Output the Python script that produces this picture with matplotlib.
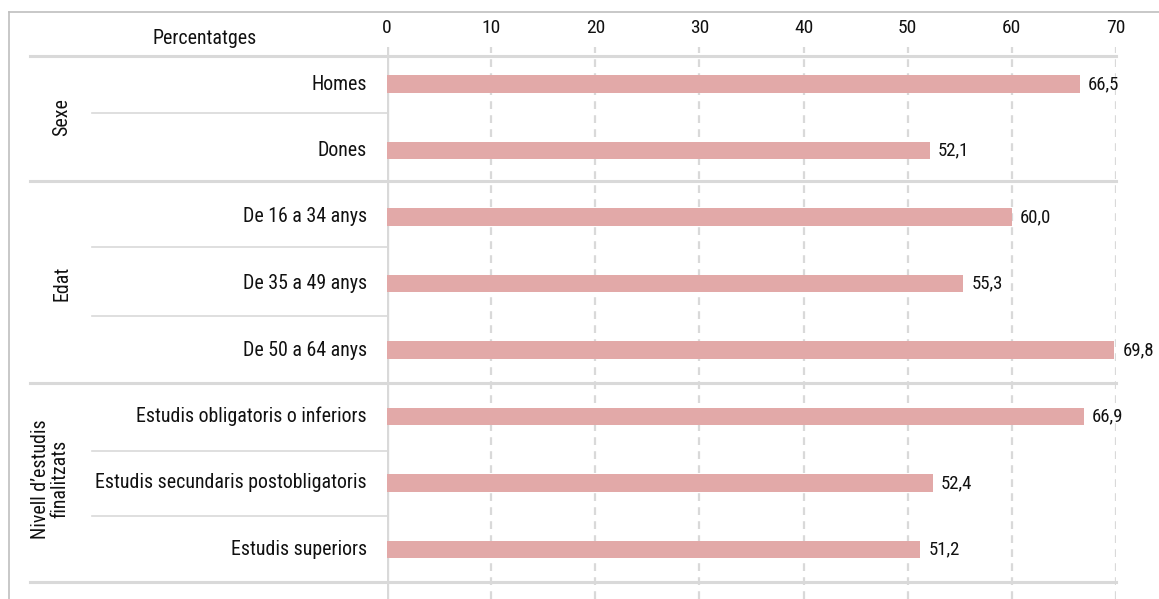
import matplotlib
matplotlib.use('Agg')
import matplotlib.pyplot as plt
from matplotlib.lines import Line2D

# =============================================================================
# Data
# =============================================================================
categories = ['Homes', 'Dones',
              'De 16 a 34 anys', 'De 35 a 49 anys', 'De 50 a 64 anys',
              'Estudis obligatoris o inferiors',
              'Estudis secundaris postobligatoris',
              'Estudis superiors']
values = [66.5, 52.1, 60.0, 55.3, 69.8, 66.9, 52.4, 51.2]
groups = ['Sexe', 'Edat', "Nivell d\u2019estudis\nfinalitzats"]
group_sizes = [2, 3, 3]
xticks = [0, 10, 20, 30, 40, 50, 60, 70]
axis_title = 'Percentatges'

# =============================================================================
# Plotting
# =============================================================================
plt.rcParams['font.family'] = ['Roboto Condensed', 'Liberation Sans', 'DejaVu Sans']

W, H = 1159, 599
fig = plt.figure(figsize=(W / 100, H / 100), dpi=100, facecolor='w')

# pixel helpers
x0_px, x70_px = 387, 1116
top_px, row0_px, row_step = 47, 84, 66.5
ax = fig.add_axes([x0_px / W, 0, (x70_px - x0_px) / W, (H - top_px) / H])
ax_w = x70_px - x0_px

def row(px):
    return (px - row0_px) / row_step

bar_col = '#e2a9a8'
grid_col = '#d9d9d9'
txt_col = '#111111'

ypos = list(range(len(categories)))
ax.barh(ypos, values, height=0.26, color=bar_col, zorder=3)
for y, v in zip(ypos, values):
    ax.annotate(f'{v:.1f}'.replace('.', ','), xy=(v, y), xytext=(6, 0),
                textcoords='offset points', va='center', ha='left',
                fontsize=13.5, color=txt_col, zorder=4)

ax.set_xlim(0, 70)
ax.set_ylim(row(H), row(top_px))
ax.set_xticks(xticks)
ax.xaxis.tick_top()
ax.tick_params(axis='x', length=0, pad=7, labelsize=14, labelcolor=txt_col)
ax.set_yticks([])
for s in ax.spines.values():
    s.set_visible(False)

# dashed gridlines
for t in xticks[1:]:
    ax.axvline(t, color=grid_col, lw=1.6, dashes=(3.5, 2.8), zorder=1)
# zero line
ax.axvline(0, color=grid_col, lw=2.4, zorder=2)

# category labels
for y, c in zip(ypos, categories):
    ax.text(-20 / ax_w, y, c, transform=ax.get_yaxis_transform(),
            ha='right', va='center', fontsize=14.3, color=txt_col)

# separators (axes x, data y)
group_lines = [row(55.7), row(181), row(383), row(582)]
inner_lines = [row(113), row(247), row(316), row(451), row(516)]
for y in group_lines:
    ax.add_line(Line2D([(30 - x0_px) / ax_w, 1.0], [y, y], color=grid_col, lw=2.2,
                       transform=ax.get_yaxis_transform(), clip_on=False, zorder=2))
for y in inner_lines:
    ax.add_line(Line2D([(92 - x0_px) / ax_w, 0.0], [y, y], color=grid_col, lw=1.2,
                       transform=ax.get_yaxis_transform(), clip_on=False, zorder=2))

# group labels
start = 0
for g, n in zip(groups, group_sizes):
    yc = start + (n - 1) / 2
    xg = 62 if '\n' not in g else 50
    ax.text((xg - x0_px) / ax_w, yc - (0.06 if '\n' in g else 0), g,
            transform=ax.get_yaxis_transform(), rotation=90, ha='center', va='center',
            fontsize=14.3, color=txt_col, linespacing=1.05, multialignment='center')
    start += n

# axis title
fig.text(205 / W, 1 - 38 / H, axis_title, ha='center', va='center', fontsize=14.3, color=txt_col)

# outer frame (top and left)
frame_col = '#bfbfbf'
fig.add_artist(Line2D([9 / W, 1], [1 - 12 / H, 1 - 12 / H], color=frame_col, lw=1.2,
                      transform=fig.transFigure))
fig.add_artist(Line2D([9 / W, 9 / W], [0, 1 - 12 / H], color=frame_col, lw=1.2,
                      transform=fig.transFigure))

plt.savefig('out.png', dpi=100)
